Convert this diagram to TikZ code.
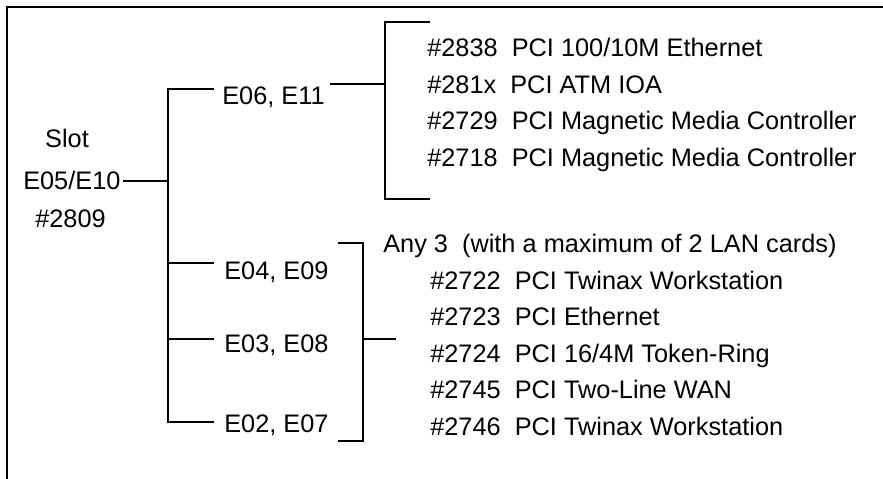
\documentclass[tikz,border=0pt]{standalone}
\usepackage{fontspec}
\setmainfont{Liberation Sans}
\usetikzlibrary{positioning, calc}

\tikzset{
  lbl/.style={inner sep=0pt, font=\fontsize{19}{23}\selectfont},
  wire/.style={line width=1.1pt},
  frame/.style={line width=1.5pt},
}

\begin{document}
\begin{tikzpicture}[x=0.75pt, y=-0.75pt]
  \useasboundingbox (0,0) rectangle (883,479);
  \draw[frame] (7,479) -- (7,6.5) -- (883,6.5);

  % slot
  \node[lbl, anchor=base] (slot) at (67,147) {Slot};
  \node[lbl, anchor=base west] (e0510) at (23,189) {E05/E10};
  \node[lbl, anchor=base] (n2809) at (70.5,227) {\#2809};

  % slot pairs
  \node[lbl, anchor=base west] (e0611) at (222,104) {E06, E11};
  \node[lbl, anchor=base west] (e0409) at (224,279) {E04, E09};
  \node[lbl, anchor=base west] (e0308) at (224,352) {E03, E08};
  \node[lbl, anchor=base west] (e0207) at (224,432) {E02, E07};

  % first group of cards
  \node[lbl, anchor=base west] (c2838) at (427,56.5) {\#2838~~PCI 100/10M Ethernet};
  \node[lbl, anchor=base west] (c281x) at (427,93) {\#281x~~PCI ATM IOA};
  \node[lbl, anchor=base west] (c2729) at (427,129.5) {\#2729~~PCI Magnetic Media Controller};
  \node[lbl, anchor=base west] (c2718) at (427,166) {\#2718~~PCI Magnetic Media Controller};

  % second group of cards
  \node[lbl, anchor=base west] (any3) at (383,252) {Any 3~~(with a maximum of 2 LAN cards)};
  \node[lbl, anchor=base west] (c2722) at (430,289) {\#2722~~PCI Twinax Workstation};
  \node[lbl, anchor=base west] (c2723) at (430,325.5) {\#2723~~PCI Ethernet};
  \node[lbl, anchor=base west] (c2724) at (430,362) {\#2724~~PCI 16/4M Token-Ring};
  \node[lbl, anchor=base west] (c2745) at (430,398.5) {\#2745~~PCI Two-Line WAN};
  \node[lbl, anchor=base west] (c2746) at (430,435) {\#2746~~PCI Twinax Workstation};

  \coordinate (trunk) at (168,0);
  \coordinate (brA) at (385,0);
  \coordinate (brB) at (363,0);

  % tree
  \draw[wire] ([xshift=2pt,yshift=6pt]e0510.base east) coordinate (p) -- (p -| trunk);
  \draw[wire] ([xshift=-6pt,yshift=11.25pt]e0611.base west)
    -| ([yshift=7.5pt]e0207.base west -| trunk)
    -- ([xshift=-7.5pt,yshift=7.5pt]e0207.base west);
  \draw[wire] ([xshift=-7.5pt,yshift=12pt]e0409.base west) coordinate (p) -- (p -| trunk);
  \draw[wire] ([xshift=-7.5pt,yshift=9.75pt]e0308.base west) coordinate (p) -- (p -| trunk);

  % brackets
  \draw[wire] ([xshift=4pt,yshift=15pt]e0611.base east) coordinate (p) -- (p -| brA);
  \draw[wire] (430,22) -| (brA |- 0,199) -- (430,199);
  \draw[wire] (338,243) -| (brB |- 0,441) -- (338,441);
  \draw[wire] (brB |- 0,339) -- (396,339);
\end{tikzpicture}
\end{document}
